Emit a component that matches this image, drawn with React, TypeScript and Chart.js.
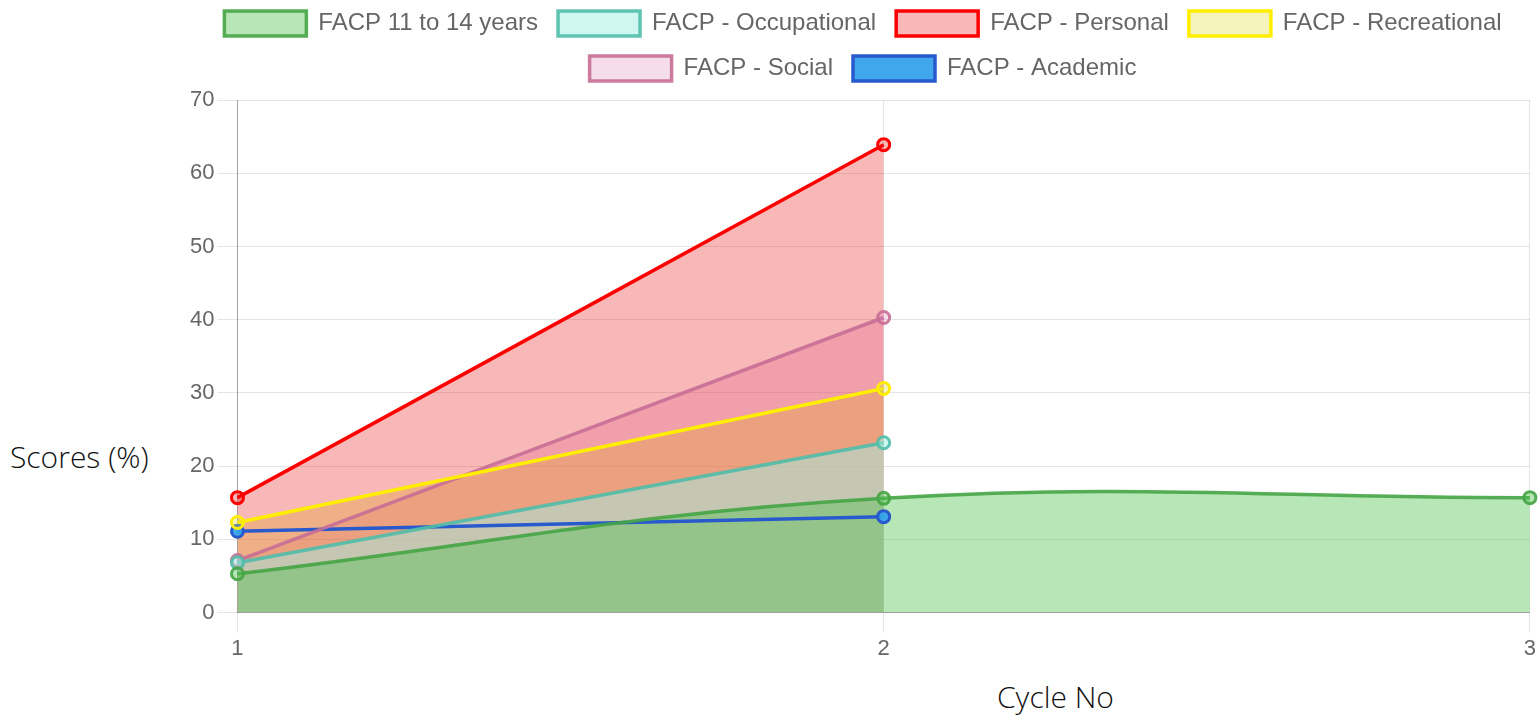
import React, { useEffect, useRef } from "react";
import { Chart, registerables } from "chart.js";

Chart.register(...registerables);

const cycles = ["1", "2", "3"];
const seriesNames = [
  "FACP 11 to 14 years",
  "FACP - Occupational",
  "FACP - Personal",
  "FACP - Recreational",
  "FACP - Social",
  "FACP - Academic",
];
const age11to14 = [5.3, 15.6, 15.7];
const occupational = [6.8, 23.2];
const personal = [15.7, 63.9];
const recreational = [12.3, 30.6];
const social = [7.1, 40.3];
const academic = [11.1, 13.1];
const yTicks = [0, 10, 20, 30, 40, 50, 60, 70];

const fills = [
  "rgba(75,192,75,0.4)",
  "rgba(160,240,230,0.5)",
  "rgba(230,0,0,0.28)",
  "rgba(220,220,60,0.35)",
  "rgba(220,120,180,0.25)",
  "rgba(54,162,235,0.95)",
];
const borders = [
  "rgba(70,165,70,0.9)",
  "rgba(80,190,170,0.9)",
  "rgb(255,0,0)",
  "rgb(255,238,0)",
  "rgba(200,110,150,0.9)",
  "rgb(40,90,205)",
];
const doFill = [true, true, true, true, true, false];

const legendSpacer = {
  id: "legendSpacer",
  afterInit(chart: any) {
    const lg = chart.legend;
    if (!lg) return;
    const orig = lg.fit;
    lg.fit = function () {
      orig.call(this);
      this.height += 9;
    };
  },
};

export default function App() {
  const ref = useRef<HTMLCanvasElement | null>(null);
  useEffect(() => {
    if (!ref.current) return;
    const values = [age11to14, occupational, personal, recreational, social, academic];
    const tickFont = { family: "'Liberation Sans', Arial, sans-serif", size: 22 };
    const chart = new Chart(ref.current, {
      type: "line",
      data: {
        labels: cycles,
        datasets: values.map((v, i) => ({
          label: seriesNames[i],
          data: v,
          backgroundColor: fills[i],
          borderColor: borders[i],
          borderWidth: 3.5,
          pointRadius: 6,
          pointBorderWidth: 3,
          pointBackgroundColor: fills[i],
          pointBorderColor: borders[i],
          fill: doFill[i] ? "origin" : false,
          tension: 0.4,
        })),
      },
      plugins: [legendSpacer],
      options: {
        animation: false,
        responsive: true,
        maintainAspectRatio: false,
        layout: { padding: 0 },
        plugins: {
          filler: { drawTime: "beforeDatasetsDraw" },
          legend: {
            position: "top",
            labels: {
              boxWidth: 82,
              boxHeight: 25,
              padding: 20,
              color: "#666",
              font: { family: "'Liberation Sans', Arial, sans-serif", size: 24 },
            },
          },
          tooltip: { enabled: false },
        },
        scales: {
          x: {
            grid: { color: "rgba(0,0,0,0.1)", tickLength: 20, lineWidth: 1 },
            border: { color: "rgba(0,0,0,0.3)" },
            ticks: { color: "#666", font: tickFont, padding: 3, maxRotation: 0 },
          },
          y: {
            min: 0,
            max: 70,
            afterBuildTicks: (axis: any) => {
              axis.ticks = yTicks.map((v) => ({ value: v }));
            },
            grid: { color: "rgba(0,0,0,0.1)", tickLength: 20, lineWidth: 1 },
            border: { color: "rgba(0,0,0,0.3)" },
            ticks: { color: "#666", font: tickFont, padding: 3 },
          },
        },
      } as any,
    });
    return () => chart.destroy();
  }, []);

  const titleFont = "'Open Sans', 'Noto Sans', sans-serif";
  return (
    <div style={{ position: "absolute", left: 0, top: 0, width: 1540, height: 719, background: "#fff", overflow: "hidden" }}>
      <div style={{ position: "absolute", left: 187, top: -9, width: 1352, height: 674 }}>
        <canvas ref={ref} />
      </div>
      <div
        style={{
          position: "absolute",
          left: 10,
          top: 436,
          fontFamily: titleFont,
          fontWeight: 300,
          fontSize: 30,
          color: "#111",
          whiteSpace: "nowrap",
        }}
      >
        Scores (%)
      </div>
      <div
        style={{
          position: "absolute",
          left: 997,
          top: 676,
          fontFamily: titleFont,
          fontWeight: 300,
          fontSize: 30,
          color: "#111",
          whiteSpace: "nowrap",
        }}
      >
        Cycle No
      </div>
    </div>
  );
}
